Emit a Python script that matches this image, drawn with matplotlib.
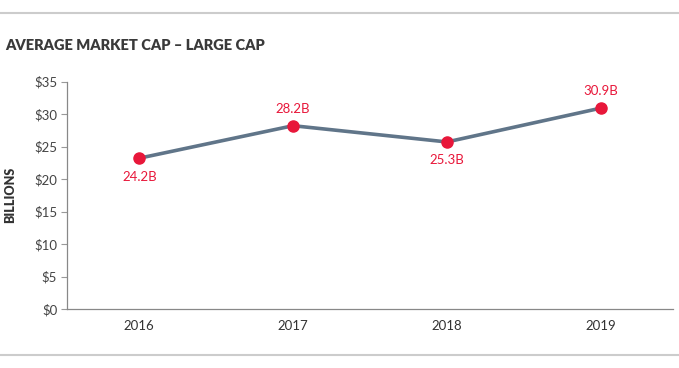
import matplotlib
matplotlib.use("Agg")
import matplotlib.pyplot as plt
from matplotlib.lines import Line2D

years = ["2016", "2017", "2018", "2019"]
values = [23.2, 28.2, 25.7, 30.9]
value_labels = ["24.2B", "28.2B", "25.3B", "30.9B"]
label_above = [False, True, False, True]
y_ticks = [0, 5, 10, 15, 20, 25, 30, 35]
y_tick_labels = ["$0", "$5", "$10", "$15", "$20", "$25", "$30", "$35"]

plt.rcParams['font.family'] = ['Lato', 'DejaVu Sans']

fig = plt.figure(figsize=(6.79, 3.68), dpi=100)
ax = fig.add_axes([67/679, 1 - 309/368, (673-67)/679, (309-81.5)/368])

x = list(range(len(years)))
ax.plot(x, values, color="#607589", lw=2.6, zorder=2, solid_capstyle='round')
ax.plot(x, values, 'o', color="#e8173a", ms=8, zorder=3)
for xi, v, lab, up in zip(x, values, value_labels, label_above):
    if up:
        ax.annotate(lab, (xi, v), xytext=(0, 8), textcoords="offset points",
                    ha="center", va="bottom", color="#e8173a", fontsize=9.5)
    else:
        ax.annotate(lab, (xi, v), xytext=(0, -9), textcoords="offset points",
                    ha="center", va="top", color="#e8173a", fontsize=9.5)

ax.set_xlim(-0.47, 3.47)
ax.set_ylim(0, 35)
ax.set_xticks(x)
ax.set_xticklabels(years)
ax.set_yticks(y_ticks)
ax.set_yticklabels(y_tick_labels)
ax.tick_params(axis='x', length=0, pad=8, labelsize=9.5, colors="#333333")
ax.tick_params(axis='y', length=4, width=0.8, color="#999999", pad=3, labelsize=9.5, labelcolor="#444444")
for s in ["top", "right"]:
    ax.spines[s].set_visible(False)
for s in ["left", "bottom"]:
    ax.spines[s].set_color("#888888")
    ax.spines[s].set_linewidth(0.9)

ax.set_ylabel("BILLIONS", fontsize=9, fontweight="heavy", color="#333333", labelpad=13)

fig.text(5/679, 1 - 45/368, "AVERAGE MARKET CAP – LARGE CAP", fontsize=10.5,
         fontweight="heavy", color="#3a3a3a", va="center", ha="left")

fig.add_artist(Line2D([0, 1], [1 - 13/368, 1 - 13/368], color="#cccccc", lw=1.5, transform=fig.transFigure))
fig.add_artist(Line2D([0, 1], [1 - 355/368, 1 - 355/368], color="#cccccc", lw=1.5, transform=fig.transFigure))

fig.savefig("out.png", dpi=100)
